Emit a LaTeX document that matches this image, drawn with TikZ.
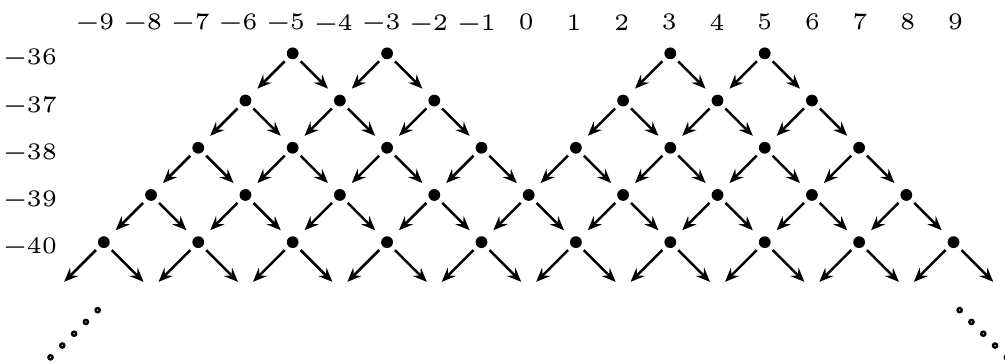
\documentclass[tikz,border=0pt]{standalone}
\usepackage{tikz}
\usetikzlibrary{
  arrows.meta
}
\tikzset{
    site/.style={circle, fill=black, inner sep=0pt, minimum size=0.25cm},
    hop/.style={-{Stealth[length=8.5pt, width=7pt, inset=3pt]}, line width=1.5pt, shorten <=3pt, shorten >=6.4pt},
    lbl/.style={inner sep=0pt},
    more/.style={draw=black, fill=gray!40, line width=1.4pt}
}
\newcommand{\axlab}[1]{\scalebox{2.7}[2.85]{\tiny\ifnum#1<0 −\number-#1\else#1\fi}}

\begin{document}
\begin{tikzpicture}
    \useasboundingbox (-11.2,-6.58) rectangle (10.09,1.13);
    % column labels
    \foreach \c in {-9,...,9}
        \node[lbl] (col\c) at ({1.01*\c-0.05-0.04*(\c<0)},0.66) {\axlab{\c}};
    % row labels
    \foreach \r [evaluate=\r as \rv using int(-36-\r)] in {0,...,4}
        \node[lbl, anchor=east] (row\r) at (-9.98,-\r-0.08) {\axlab{\rv}};
    % free ends under the last row
    \foreach \c in {-10,-8,...,10}
        \coordinate (s5\c) at (\c,-5);
    % sites, bottom row first, each with its two hops down
    \foreach \r/\cols in {4/{-9,-7,-5,-3,-1,1,3,5,7,9},
                          3/{-8,-6,-4,-2,0,2,4,6,8},
                          2/{-7,-5,-3,-1,1,3,5,7},
                          1/{-6,-4,-2,2,4,6},
                          0/{-5,-3,3,5}}
        \foreach \c in \cols {
            \pgfmathtruncatemacro{\nr}{\r+1}
            \pgfmathtruncatemacro{\lc}{\c-1}
            \pgfmathtruncatemacro{\rc}{\c+1}
            \node[site] (s\r\c) at (\c,-\r) {};
            \draw[hop] (s\r\c) -- (s\nr\lc);
            \draw[hop] (s\r\c) -- (s\nr\rc);
        }
    % trailing dots
    \coordinate (tl) at (-9.13,-5.44);
    \coordinate (tr) at (9.13,-5.44);
    \foreach \k in {0,...,4} {
        \filldraw[more] (tl) ++(-0.25*\k,-0.25*\k) circle (0.045);
        \filldraw[more] (tr) ++(0.25*\k,-0.25*\k) circle (0.045);
    }
\end{tikzpicture}
\end{document}
